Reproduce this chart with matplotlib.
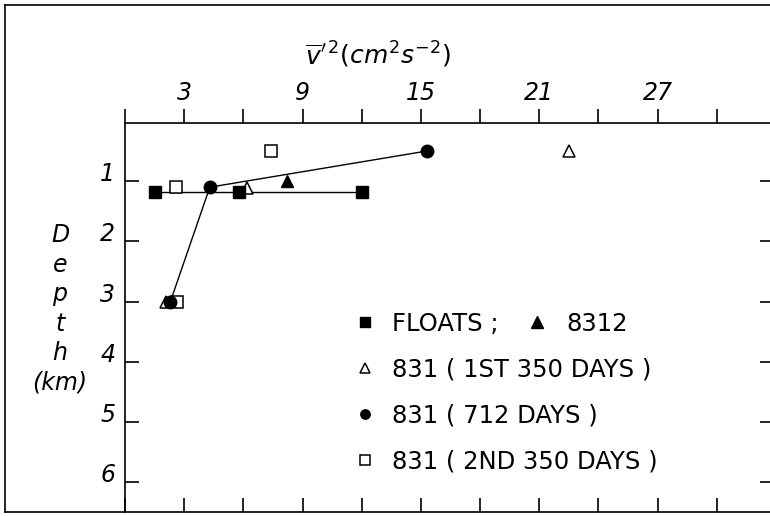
import matplotlib
matplotlib.use("Agg")
import matplotlib.pyplot as plt
from matplotlib.lines import Line2D
import numpy as np

# ---- data ----
floats_x = [1.5, 5.8, 12.0]
floats_depth = [1.18, 1.18, 1.18]

m8312_x = [8.2]
m8312_depth = [1.0]

m831_first_x = [22.5, 6.2, 2.1]
m831_first_depth = [0.5, 1.12, 3.0]

m831_712_x = [15.3, 4.3, 2.3]
m831_712_depth = [0.5, 1.1, 3.0]

m831_second_x = [7.4, 2.6, 2.65]
m831_second_depth = [0.5, 1.09, 3.0]

x_ticks = [0, 3, 6, 9, 12, 15, 18, 21, 24, 27, 30]
x_tick_labels = ["", "3", "", "9", "", "15", "", "21", "", "27", ""]
y_ticks = [1, 2, 3, 4, 5, 6]
y_tick_labels = ["1", "2", "3", "4", "5", "6"]

legend_labels = ["FLOATS ;", "831 ( 1ST 350 DAYS )", "831 ( 712 DAYS )", "831 ( 2ND 350 DAYS )"]
legend2_label = "8312"

# ---- figure ----
W, H = 770, 516
fig = plt.figure(figsize=(W / 100, H / 100), dpi=100)
fig.patch.set_facecolor("white")

ax_l, ax_r, ax_t, ax_b = 125, 774, 123.3, 512
ax = fig.add_axes([ax_l / W, (H - ax_b) / H, (ax_r - ax_l) / W, (ax_b - ax_t) / H])
ax.set_xlim(0, 32.9)
ax.set_ylim(6.49, 0.04)

lw = 1.2
for s in ax.spines.values():
    s.set_linewidth(lw)

# connecting lines
ax.plot(floats_x, floats_depth, color="black", lw=1.0, zorder=2)
ax.plot(m831_712_x, m831_712_depth, color="black", lw=1.0, zorder=2)

# markers
ms = 9
h_floats, = ax.plot(floats_x, floats_depth, ls="none", marker="s", ms=ms, mfc="black", mec="black", zorder=4)
h_8312, = ax.plot(m8312_x, m8312_depth, ls="none", marker="^", ms=ms, mfc="black", mec="black", zorder=4)
h_first, = ax.plot(m831_first_x, m831_first_depth, ls="none", marker="^", ms=ms, mfc="white", mec="black", mew=1.1, zorder=3)
h_712, = ax.plot(m831_712_x, m831_712_depth, ls="none", marker="o", ms=ms, mfc="black", mec="black", zorder=5)
h_second, = ax.plot(m831_second_x, m831_second_depth, ls="none", marker="s", ms=ms, mfc="white", mec="black", mew=1.1, zorder=3)

# ticks
ax.xaxis.set_ticks_position("both")
ax.xaxis.set_label_position("top")
ax.set_xticks(x_ticks)
ax.set_xticklabels(x_tick_labels, fontsize=17, fontstyle="italic")
ax.tick_params(axis="x", which="major", top=True, bottom=True, labeltop=True, labelbottom=False,
               length=10, width=lw, pad=13)
ax.tick_params(axis="x", which="major", direction="in")
# top ticks outward
for t in ax.xaxis.get_major_ticks():
    t.tick2line.set_marker(matplotlib.lines.TICKUP)

ax.set_yticks(y_ticks)
ax.set_yticklabels(y_tick_labels, fontsize=17, fontstyle="italic")
ax.tick_params(axis="y", which="major", left=True, right=True, direction="in", length=10, width=lw, pad=7)
for lab in ax.get_yticklabels():
    lab.set_verticalalignment("baseline")

# axis labels
ax.set_xlabel(r"$\overline{v}^{\prime\,2}(cm^2s^{-2})$", fontsize=18)
ax.xaxis.set_label_coords((378 - ax_l) / (ax_r - ax_l), (ax_b - 55) / (ax_b - ax_t))
ax.xaxis.label.set_verticalalignment("center")

ax.set_ylabel("D\ne\np\nt\nh\n(km)", rotation=0, fontsize=17, fontstyle="italic",
              ha="center", va="center", linespacing=1.29)
ax.yaxis.set_label_coords((60 - ax_l) / (ax_r - ax_l), (ax_b - 309) / (ax_b - ax_t))

# legends
fs_leg = 17.5
lt = (ax_b - 312) / (ax_b - ax_t)
leg1 = ax.legend([h_floats, h_first, h_712, h_second], legend_labels,
                 loc="upper left", bbox_to_anchor=((353.5 - ax_l) / (ax_r - ax_l), lt),
                 frameon=False, fontsize=fs_leg, borderpad=0, borderaxespad=0,
                 handlelength=0.95, handletextpad=0.62, labelspacing=0.9, markerscale=0.75)
ax.add_artist(leg1)
leg2 = ax.legend([h_8312], [legend2_label],
                 loc="upper left", bbox_to_anchor=((525.5 - ax_l) / (ax_r - ax_l), lt),
                 frameon=False, fontsize=fs_leg, borderpad=0, borderaxespad=0,
                 handlelength=0.95, handletextpad=0.75, markerscale=0.9)

# outer frame of figure
fx0 = 5 / W
fy_top = (H - 5) / H
fy_bot = (H - ax_b) / H
fig.add_artist(Line2D([fx0, fx0], [fy_bot, fy_top], color="black", lw=lw, transform=fig.transFigure))
fig.add_artist(Line2D([fx0, 1.0], [fy_top, fy_top], color="black", lw=lw, transform=fig.transFigure))
fig.add_artist(Line2D([fx0, ax_l / W], [fy_bot, fy_bot], color="black", lw=lw, transform=fig.transFigure))

fig.savefig("out.png", dpi=100)
